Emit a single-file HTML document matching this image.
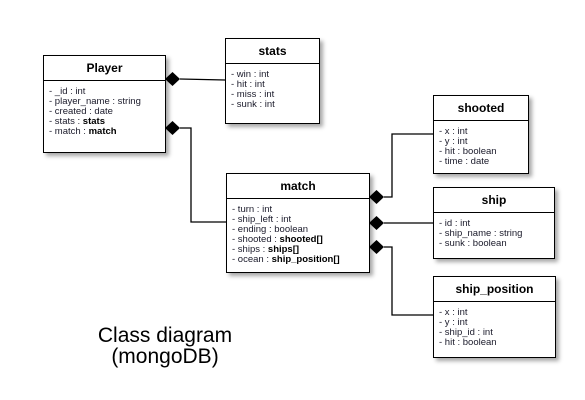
<!DOCTYPE html>
<html><head><style>
body{margin:0;width:585px;height:400px;background:#fff;position:relative;overflow:hidden;font-family:"Liberation Sans",Arial,sans-serif;}
.b{position:absolute;border:1px solid #000;background:#fff;box-sizing:border-box;box-shadow:3px 3px 4px rgba(0,0,0,0.35);}
.h{height:24px;border-bottom:1px solid #000;text-align:center;font-weight:bold;font-size:12px;line-height:24px;}
.a{padding:6px 0 0 5px;font-size:9.5px;line-height:10px;color:#1a1a2a;white-space:nowrap;}
.a b{color:#000}
.t{position:absolute;left:65px;width:200px;text-align:center;font-size:21px;line-height:21px;top:325px;color:#000}
</style></head><body>
<svg width="585" height="400" style="position:absolute;left:0;top:0">
<g stroke="#000" stroke-width="1.3" fill="none">
<line x1="180" y1="79" x2="225" y2="80"/>
<polyline points="180,128 191,128 191,222 226,222"/>
<polyline points="384,197 392,197 392,134 433,134"/>
<line x1="384" y1="223" x2="433" y2="223"/>
<polyline points="384,247 392,247 392,315 433,315"/>
</g>
<g fill="#000">
<polygon points="165,79 172.5,72 180,79 172.5,86"/>
<polygon points="165,128 172.5,121 180,128 172.5,135"/>
<polygon points="369,197 376.5,190 384,197 376.5,204"/>
<polygon points="369,223 376.5,216 384,223 376.5,230"/>
<polygon points="369,247 376.5,240 384,247 376.5,254"/>
</g>
</svg>
<div class="b" style="left:43px;top:55px;width:123px;height:98px"><div class="h">Player</div><div class="a">- _id : int<br>- player_name : string<br>- created : date<br>- stats : <b>stats</b><br>- match : <b>match</b></div></div>
<div class="b" style="left:225px;top:38px;width:95px;height:86px"><div class="h">stats</div><div class="a">- win : int<br>- hit : int<br>- miss : int<br>- sunk : int</div></div>
<div class="b" style="left:226px;top:173px;width:144px;height:100px"><div class="h">match</div><div class="a">- turn : int<br>- ship_left : int<br>- ending : boolean<br>- shooted : <b>shooted[]</b><br>- ships : <b>ships[]</b><br>- ocean : <b>ship_position[]</b></div></div>
<div class="b" style="left:433px;top:95px;width:96px;height:79px"><div class="h">shooted</div><div class="a">- x : int<br>- y : int<br>- hit : boolean<br>- time : date</div></div>
<div class="b" style="left:433px;top:187px;width:122px;height:72px"><div class="h">ship</div><div class="a">- id : int<br>- ship_name : string<br>- sunk : boolean</div></div>
<div class="b" style="left:433px;top:276px;width:123px;height:82px"><div class="h">ship_position</div><div class="a">- x : int<br>- y : int<br>- ship_id : int<br>- hit : boolean</div></div>
<div class="t">Class diagram<br>(mongoDB)</div>
</body></html>
